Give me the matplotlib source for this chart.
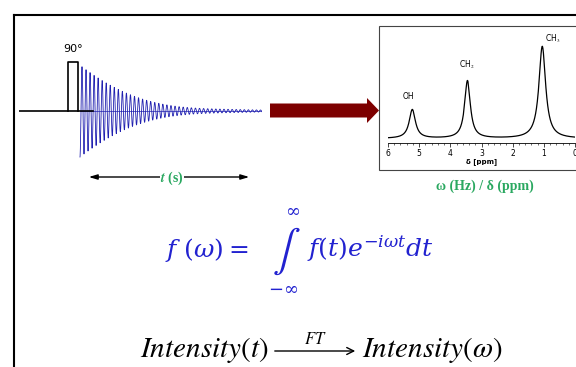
import numpy as np
import matplotlib
matplotlib.use('Agg')
import matplotlib.pyplot as plt
from matplotlib.patches import Rectangle, FancyArrow

plt.rcParams['mathtext.fontset'] = 'stix'

# Spectrum peaks (ethanol, 1H NMR)
peak_labels = ['OH', 'CH$_2$', 'CH$_3$']
peak_ppm = [5.22, 3.45, 1.05]
peak_height = [0.26, 0.52, 0.83]
peak_fwhm = [0.24, 0.22, 0.26]
baseline = 0.04
label_ppm = [5.36, 3.47, 0.71]
label_y = [0.42, 0.70, 0.94]
ppm_ticks = [6, 5, 4, 3, 2, 1, 0]

# FID components (relative weights, Hz offsets, decay in s)
fid_weight = [1, 2, 3]
fid_freq = [45.8, 45.2, 44.8]
fid_t2 = 0.33

# pulse (s, relative amplitude)
pulse_start = -0.066
pulse_end = -0.011
pulse_height = 1.065

blue = '#2222d0'
green = '#2aa860'
maroon = '#7d0000'

fig = plt.figure(figsize=(5.76, 3.67), dpi=100)

# overlay in pixel coordinates
ax = fig.add_axes([0, 0, 1, 1])
ax.set_xlim(0, 576)
ax.set_ylim(367, 0)
ax.axis('off')

# slide frame
ax.plot([13.5, 13.5], [367, 15], color='k', lw=1.5)
ax.plot([13.5, 576], [15, 15], color='k', lw=1.5)

# spectrum box
ax.add_patch(Rectangle((379, 26), 200, 144, facecolor='white', edgecolor='#444444', lw=0.8))

# big arrow
ax.add_patch(FancyArrow(270, 110.5, 109, 0, width=14, head_width=25, head_length=12,
                        length_includes_head=True, color=maroon, lw=0))

ax.text(73, 49, '90°', fontsize=8, ha='center', va='center')

# time axis arrow
ax.annotate('', xy=(252, 177), xytext=(86, 177),
            arrowprops=dict(arrowstyle='<|-|>,head_length=0.5,head_width=0.15', color='k', lw=1))
ax.text(172, 178, r'$\boldsymbol{t}$ (s)', fontsize=10, color=green, fontweight='bold',
        family='Liberation Serif', ha='center', va='center',
        bbox=dict(facecolor='white', edgecolor='none', pad=0.5))

ax.text(485, 186, 'ω (Hz) / δ (ppm)', fontsize=10, color=green, fontweight='bold',
        family='Liberation Serif', ha='center', va='center')

# Fourier transform equation
ax.text(165, 257, r'$f\ (\omega) =$', fontsize=18, color=blue, ha='left', va='baseline',
        math_fontfamily='dejavuserif')
ax.text(286, 251, r'$\int$', fontsize=30, color=blue, ha='center', va='center',
        math_fontfamily='stix')
ax.text(293, 210, r'$\infty$', fontsize=13, color=blue, ha='center', va='center',
        math_fontfamily='dejavuserif')
ax.text(283, 288, r'$-\infty$', fontsize=13, color=blue, ha='center', va='center',
        math_fontfamily='dejavuserif')
ax.text(307, 257, r'$f(t)e^{-i\omega t}dt$', fontsize=18, color=blue, ha='left', va='baseline',
        math_fontfamily='dejavuserif')

# Intensity(t) -> Intensity(w)
ax.text(140, 357, r'$Intensity(t)$', fontsize=21, ha='left', va='baseline')
ax.annotate('', xy=(358, 351), xytext=(272, 351),
            arrowprops=dict(arrowstyle='->,head_length=0.5,head_width=0.25', color='k', lw=1))
ax.text(315, 339, r'$FT$', fontsize=12, ha='center', va='center')
ax.text(362, 357, r'$Intensity(\omega)$', fontsize=21, ha='left', va='baseline')

# FID
ax_fid = fig.add_axes([19 / 576, 1 - 161.6 / 367, 243 / 576, 101.2 / 367])
ax_fid.set_xlim(-0.335, 1.0)
ax_fid.set_ylim(-1.1, 1.1)
ax_fid.axis('off')
t = np.linspace(0, 1, 1400)
fid = sum(w * np.cos(2 * np.pi * f * t) for w, f in zip(fid_weight, fid_freq))
fid = fid / sum(fid_weight) * np.exp(-t / fid_t2)
ax_fid.plot(t, -fid, color='#2020b0', lw=0.6)
ax_fid.plot([0, 1], [0, 0], color='#2020b0', lw=0.5)
ax_fid.plot([-0.335, 0.071], [0, 0], color='k', lw=1.2)
ax_fid.plot([pulse_start, pulse_start, pulse_end, pulse_end], [0, pulse_height, pulse_height, 0],
            color='k', lw=1.2)

# spectrum
ax_sp = fig.add_axes([388 / 576, 1 - 143 / 367, 187 / 576, 111 / 367])
ax_sp.patch.set_alpha(0)
ppm = np.linspace(0, 6, 1500)
spec = baseline + sum(h / (1 + ((ppm - c) / (w / 2)) ** 2)
                      for c, h, w in zip(peak_ppm, peak_height, peak_fwhm))
ax_sp.plot(ppm, spec, color='k', lw=0.9)
ax_sp.set_xlim(6, 0)
ax_sp.set_ylim(0, 1)
for s in ['top', 'left', 'right']:
    ax_sp.spines[s].set_visible(False)
ax_sp.spines['bottom'].set_linewidth(0.6)
ax_sp.set_yticks([])
ax_sp.set_xticks(ppm_ticks)
ax_sp.set_xticks(np.arange(0, 6.01, 0.2), minor=True)
ax_sp.tick_params(axis='x', which='major', labelsize=5.5, length=3, width=0.5, pad=1)
ax_sp.tick_params(axis='x', which='minor', length=1.5, width=0.4)
ax_sp.set_xlabel('δ [ppm]', fontsize=5, fontweight='bold', labelpad=0.5)
for lab, x, y in zip(peak_labels, label_ppm, label_y):
    ax_sp.text(x, y, lab, fontsize=5.5, ha='center', va='center')

fig.savefig('out.png', dpi=100)
